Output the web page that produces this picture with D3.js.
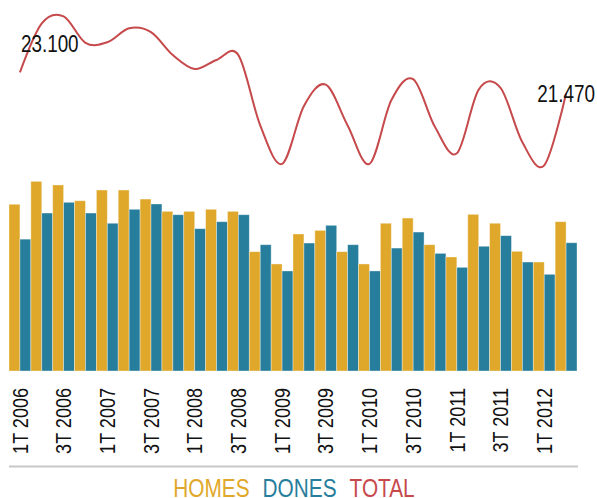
<!DOCTYPE html>
<html>
<head>
<meta charset="utf-8">
<script src="https://cdnjs.cloudflare.com/ajax/libs/d3/7.8.5/d3.min.js"></script>
<style>
	body { margin: 0; background: #fff; }
	svg text { font-family: "Liberation Sans Narrow", "Arial Narrow", "Liberation Sans", sans-serif; }
</style>
</head>
<body>
<div id="main"></div>
<script>

	// quarters, one label every two
	var quarters = ["1T 2006", "2T 2006", "3T 2006", "4T 2006",
		"1T 2007", "2T 2007", "3T 2007", "4T 2007",
		"1T 2008", "2T 2008", "3T 2008", "4T 2008",
		"1T 2009", "2T 2009", "3T 2009", "4T 2009",
		"1T 2010", "2T 2010", "3T 2010", "4T 2010",
		"1T 2011", "2T 2011", "3T 2011", "4T 2011",
		"1T 2012", "2T 2012"]

	var tickLabels = ["1T 2006", "3T 2006", "1T 2007", "3T 2007", "1T 2008", "3T 2008",
		"1T 2009", "3T 2009", "1T 2010", "3T 2010", "1T 2011", "3T 2011", "1T 2012"]

	var homes = [12900, 14670, 14390, 13170, 14000, 14000, 13300, 12350, 12350, 12510, 12350, 9230, 8280,
		10600, 10880, 9230, 8280, 11430, 11830, 9770, 8820, 12120, 11430, 9260, 8430, 11550]

	var dones = [10200, 12220, 13050, 12220, 11430, 12510, 12920, 12090, 11010, 11550, 12090, 9770, 7740,
		9900, 11270, 9770, 7740, 9510, 10750, 9100, 8020, 9650, 10470, 8430, 7480, 9920]

	var totals = [23100, 26890, 27440, 25390, 25430, 26510, 26220, 24440, 23360, 24060, 24440, 19000, 16020,
		20500, 22150, 19000, 16020, 20940, 22580, 18870, 16840, 21770, 21900, 17690, 15910, 21470]

	var seriesNames = ["HOMES", "DONES", "TOTAL"]
	var colors = { HOMES: "#dfa82a", DONES: "#277e9c", TOTAL: "#c6494b" }

	var w = 597, h = 498

	// no narrow font installed: squeeze the regular one
	function narrow(sel, k) {
		sel.each(function() {
			var L = this.getComputedTextLength()
			d3.select(this)
				.attr("textLength", L * (k || 0.82))
				.attr("lengthAdjust", "spacingAndGlyphs")
		})
	}

	var svg = d3.select("#main")
		.append("svg")
		.attr("width", w)
		.attr("height", h)

	var x0 = d3.scaleBand()
		.domain(quarters)
		.range([9, 577])
		.padding(0)

	var x1 = d3.scaleBand()
		.domain(["HOMES", "DONES"])
		.range([0, x0.bandwidth()])

	var y = d3.scaleLinear()
		.domain([0, 15000])
		.range([371, 177.1])

	// bars
	var groups = svg.selectAll(".quarter")
		.data(quarters)
		.enter()
		.append("g")
		.attr("class", "quarter")
		.attr("transform", function(d) { return "translate(" + x0(d) + ",0)" })

	groups.selectAll("rect")
		.data(function(d, i) { return [{ k: "HOMES", v: homes[i] }, { k: "DONES", v: dones[i] }] })
		.enter()
		.append("rect")
		.attr("x", function(d) { return x1(d.k) })
		.attr("width", x1.bandwidth())
		.attr("y", function(d) { return y(d.v) })
		.attr("height", function(d) { return y(0) - y(d.v) })
		.attr("fill", function(d) { return colors[d.k] })
		.attr("stroke", "#fff")
		.attr("stroke-opacity", 0.45)
		.attr("stroke-width", 0.8)

	// total line
	var line = d3.line()
		.x(function(d, i) { return x0(quarters[i]) + x0.bandwidth() / 2 })
		.y(function(d) { return y(d) })
		.curve(d3.curveCardinal)

	svg.append("path")
		.datum(totals)
		.attr("d", line)
		.attr("fill", "none")
		.attr("stroke", colors.TOTAL)
		.attr("stroke-width", 2)

	var fmt = d3.formatLocale({ decimal: ",", thousands: ".", grouping: [3], currency: ["", "€"] }).format(",.0f")
	var first = totals[0], last = totals[totals.length - 1]

	svg.append("text")
		.attr("x", x0(quarters[0]) + x0.bandwidth() / 2 + 1)
		.attr("y", y(first) - 20.5)
		.attr("font-size", 23)
		.attr("fill", "#111")
		.text(fmt(first))
		.call(narrow)

	svg.append("text")
		.attr("x", x0(quarters[quarters.length - 1]) + x0.bandwidth() / 2)
		.attr("y", y(last) + 8.5)
		.attr("text-anchor", "middle")
		.attr("font-size", 23)
		.attr("fill", "#111")
		.text(fmt(last))
		.call(narrow)

	// x axis
	var xAxis = d3.axisBottom(x0)
		.tickValues(tickLabels)
		.tickSize(0)
		.tickPadding(0)

	var axisG = svg.append("g")
		.attr("transform", "translate(0,371)")
		.call(xAxis)

	axisG.select(".domain").remove()
	axisG.selectAll("text")
		.attr("font-size", 22)
		.attr("font-family", null)
		.attr("fill", "#111")
		.attr("transform", "rotate(-90)")
		.attr("text-anchor", "end")
		.attr("x", -17)
		.attr("y", 0)
		.attr("dy", "0.35em")
		.call(narrow)

	// separator
	svg.append("line")
		.attr("x1", 9)
		.attr("x2", 578)
		.attr("y1", 466.5)
		.attr("y2", 466.5)
		.attr("stroke", "#c8c8c8")
		.attr("stroke-width", 2)

	// legend
	var legend = svg.append("g")
	var lx = 0
	seriesNames.forEach(function(s) {
		var t = legend.append("text")
			.attr("x", lx)
			.attr("y", 496.5)
			.attr("font-size", 26)
			.attr("fill", colors[s])
			.text(s)
		var L = t.node().getComputedTextLength() * 0.8
		t.attr("textLength", L).attr("lengthAdjust", "spacingAndGlyphs")
		lx += L + 13
	})
	lx -= 13
	legend.attr("transform", "translate(" + (294 - lx / 2) + ",0)")

</script>
</body>
</html>
